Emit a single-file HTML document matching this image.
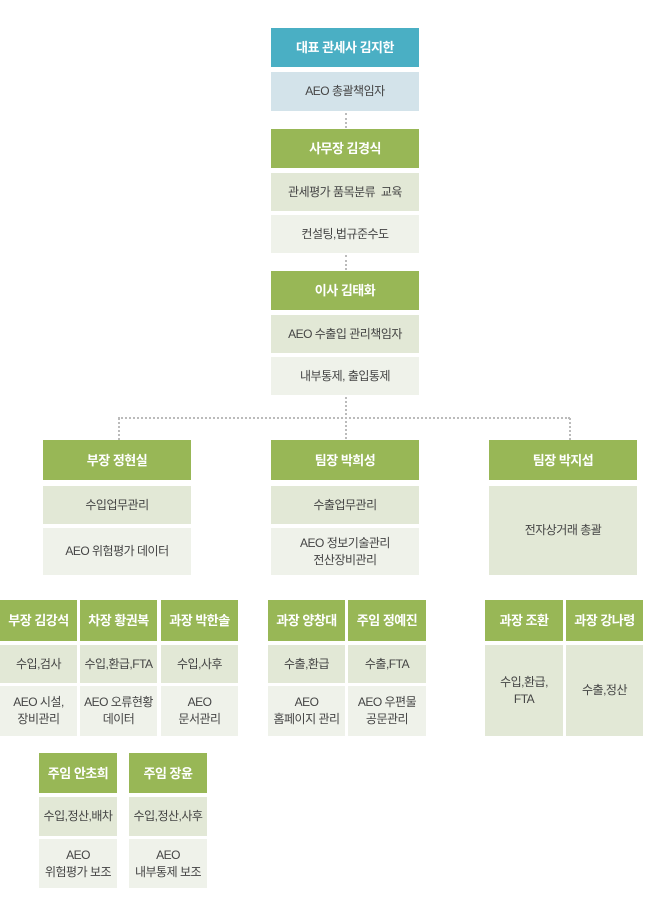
<!DOCTYPE html>
<html><head><meta charset="utf-8"><style>
body{margin:0;width:650px;height:921px;background:#fff;position:relative;overflow:hidden;font-family:"Liberation Sans","Noto Sans CJK KR",sans-serif;}
.b{position:absolute;display:flex;align-items:center;justify-content:center;text-align:center;font-size:12px;color:#444;line-height:17px;letter-spacing:-0.5px}
.h{background:#98b756;color:#fff;font-weight:bold;font-size:13px}
.t{background:#4aafc4;color:#fff;font-weight:bold;font-size:13px}
.s{background:#d3e3ea}
.g{background:#e2e8d6}
.l{background:#eff2ea}
.v{position:absolute;border-left:2px dotted #bbb;width:0}
.hz{position:absolute;border-top:2px dotted #bbb;height:0}
</style></head><body>
<div class="b t" style="left:271px;top:28px;width:148px;height:39px">대표 관세사 김지한</div>
<div class="b s" style="left:271px;top:72px;width:148px;height:39px">AEO 총괄책임자</div>
<div class="v" style="left:345px;top:113px;height:15px"></div>
<div class="b h" style="left:271px;top:129px;width:148px;height:39px">사무장 김경식</div>
<div class="b g" style="left:271px;top:173px;width:148px;height:38px">관세평가 품목분류&nbsp; 교육</div>
<div class="b l" style="left:271px;top:215px;width:148px;height:38px">컨설팅,법규준수도</div>
<div class="v" style="left:345px;top:255px;height:15px"></div>
<div class="b h" style="left:271px;top:271px;width:148px;height:39px">이사 김태화</div>
<div class="b g" style="left:271px;top:315px;width:148px;height:38px">AEO 수출입 관리책임자</div>
<div class="b l" style="left:271px;top:357px;width:148px;height:38px">내부통제, 출입통제</div>
<div class="v" style="left:345px;top:397px;height:42px"></div>
<div class="hz" style="left:118px;top:417px;width:452px"></div>
<div class="v" style="left:118px;top:418px;height:22px"></div>
<div class="v" style="left:569px;top:418px;height:22px"></div>

<div class="b h" style="left:43px;top:440px;width:148px;height:40px">부장 정현실</div>
<div class="b g" style="left:43px;top:486px;width:148px;height:38px">수입업무관리</div>
<div class="b l" style="left:43px;top:528px;width:148px;height:47px">AEO 위험평가 데이터</div>
<div class="b h" style="left:271px;top:440px;width:148px;height:40px">팀장 박희성</div>
<div class="b g" style="left:271px;top:486px;width:148px;height:38px">수출업무관리</div>
<div class="b l" style="left:271px;top:528px;width:148px;height:47px">AEO 정보기술관리<br>전산장비관리</div>
<div class="b h" style="left:489px;top:440px;width:148px;height:40px">팀장 박지섭</div>
<div class="b g" style="left:489px;top:486px;width:148px;height:89px">전자상거래 총괄</div>

<div class="b h" style="left:0px;top:600px;width:77px;height:41px">부장 김강석</div>
<div class="b g" style="left:0px;top:645px;width:77px;height:38px">수입,검사</div>
<div class="b l" style="left:0px;top:686px;width:77px;height:50px">AEO 시설,<br>장비관리</div>
<div class="b h" style="left:80px;top:600px;width:77px;height:41px">차장 황권복</div>
<div class="b g" style="left:80px;top:645px;width:77px;height:38px">수입,환급,FTA</div>
<div class="b l" style="left:80px;top:686px;width:77px;height:50px">AEO 오류현황<br>데이터</div>
<div class="b h" style="left:161px;top:600px;width:77px;height:41px">과장 박한솔</div>
<div class="b g" style="left:161px;top:645px;width:77px;height:38px">수입,사후</div>
<div class="b l" style="left:161px;top:686px;width:77px;height:50px">AEO<br>문서관리</div>

<div class="b h" style="left:268px;top:600px;width:77px;height:41px">과장 양창대</div>
<div class="b g" style="left:268px;top:645px;width:77px;height:38px">수출,환급</div>
<div class="b l" style="left:268px;top:686px;width:77px;height:50px">AEO<br>홈페이지 관리</div>
<div class="b h" style="left:348px;top:600px;width:78px;height:41px">주임 정예진</div>
<div class="b g" style="left:348px;top:645px;width:78px;height:38px">수출,FTA</div>
<div class="b l" style="left:348px;top:686px;width:78px;height:50px">AEO 우편물<br>공문관리</div>

<div class="b h" style="left:485px;top:600px;width:78px;height:41px">과장 조환</div>
<div class="b g" style="left:485px;top:645px;width:78px;height:91px">수입,환급,<br>FTA</div>
<div class="b h" style="left:566px;top:600px;width:77px;height:41px">과장 강나령</div>
<div class="b g" style="left:566px;top:645px;width:77px;height:91px">수출,정산</div>

<div class="b h" style="left:39px;top:753px;width:78px;height:40px">주임 안초희</div>
<div class="b g" style="left:39px;top:797px;width:78px;height:39px">수입,정산,배차</div>
<div class="b l" style="left:39px;top:839px;width:78px;height:49px">AEO<br>위험평가 보조</div>
<div class="b h" style="left:129px;top:753px;width:78px;height:40px">주임 장윤</div>
<div class="b g" style="left:129px;top:797px;width:78px;height:39px">수입,정산,사후</div>
<div class="b l" style="left:129px;top:839px;width:78px;height:49px">AEO<br>내부통제 보조</div>
</body></html>
